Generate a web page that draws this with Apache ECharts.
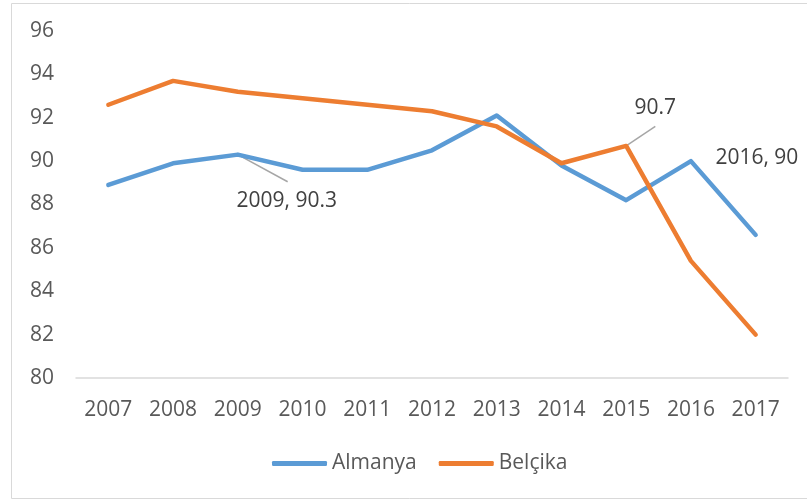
<!DOCTYPE html>
<html>
<head>
<meta charset="utf-8">
<script src="https://cdn.jsdelivr.net/npm/echarts@6/dist/echarts.min.js"></script>
<style>
  html, body { margin: 0; padding: 0; background: #fff; }
  #chart { width: 807px; height: 501px; }
</style>
</head>
<body>
<div id="chart"></div>
<script>
const years = ["2007", "2008", "2009", "2010", "2011", "2012", "2013", "2014", "2015", "2016", "2017"];
const almanya = [88.9, 89.9, 90.3, 89.6, 89.6, 90.5, 92.1, 89.8, 88.2, 90, 86.6];
const belcika = [92.6, 93.7, 93.2, 92.9, 92.6, 92.3, 91.6, 89.9, 90.7, 85.4, 82.0];

// which points carry a data label, and how it is written
const almanyaLabels = { 2: "2009, 90.3", 9: "2016, 90" };
const belcikaLabels = { 8: "90.7" };

// leader lines: from a labelled point to where its label sits (index, value)
const almanyaLeader = [[2, 90.3], [2.77, 89.05]];
const belcikaLeader = [[8, 90.7], [8.45, 91.6]];

const font = "'Open Sans', 'Noto Sans', sans-serif";

function withLabels(values, labels) {
  return values.map(function (v, i) {
    if (labels[i] === undefined) return v;
    return { value: v, label: { show: true, formatter: labels[i] } };
  });
}

function leaderSeries(points) {
  return {
    type: "line",
    xAxisIndex: 1,
    data: points,
    symbol: "none",
    silent: true,
    z: 1,
    lineStyle: { color: "#a6a6a6", width: 1.5 }
  };
}

const chart = echarts.init(document.getElementById("chart"));

chart.setOption({
  animation: false,
  textStyle: { fontFamily: font },
  graphic: [
    {
      type: "rect",
      shape: { x: 11.5, y: 3.5, width: 820, height: 495 },
      style: { fill: "none", stroke: "#d9d9d9", lineWidth: 1 },
      silent: true
    }
  ],
  grid: { left: 76, right: 19, top: 31, bottom: 123 },
  legend: {
    left: 267,
    top: 448,
    icon: "roundRect",
    itemWidth: 55,
    itemHeight: 5,
    itemGap: 22,
    textStyle: { color: "#595959", fontSize: 21, fontFamily: font },
    data: ["Almanya", "Belçika"]
  },
  xAxis: [
    {
      type: "category",
      data: years,
      boundaryGap: true,
      axisLine: { lineStyle: { color: "#d9d9d9", width: 1.5 } },
      axisTick: { show: false },
      axisLabel: { color: "#595959", fontSize: 21, margin: 22, fontFamily: font }
    },
    {
      // hidden twin of the category axis, so leader lines can end between categories
      type: "value",
      min: -0.5,
      max: years.length - 0.5,
      show: false
    }
  ],
  yAxis: {
    type: "value",
    min: 80,
    max: 96,
    interval: 2,
    axisLine: { show: false },
    axisTick: { show: false },
    splitLine: { show: false },
    axisLabel: { color: "#595959", fontSize: 21, margin: 22, fontFamily: font }
  },
  series: [
    leaderSeries(almanyaLeader),
    leaderSeries(belcikaLeader),
    {
      name: "Almanya",
      type: "line",
      data: withLabels(almanya, almanyaLabels),
      symbol: "circle",
      symbolSize: 0,
      showSymbol: true,
      color: "#5b9bd5",
      z: 2,
      lineStyle: { width: 4.5, cap: "round", join: "round" },
      label: { show: false, color: "#404040", fontSize: 21, fontFamily: font },
      labelLayout: function (p) {
        if (p.dataIndex === 2) return { dx: 49, dy: 62 };
        if (p.dataIndex === 9) return { dx: 66, dy: 12 };
        return {};
      }
    },
    {
      name: "Belçika",
      type: "line",
      data: withLabels(belcika, belcikaLabels),
      symbol: "circle",
      symbolSize: 0,
      showSymbol: true,
      color: "#ed7d31",
      z: 2,
      lineStyle: { width: 4.5, cap: "round", join: "round" },
      label: { show: false, color: "#404040", fontSize: 21, fontFamily: font },
      labelLayout: function (p) {
        if (p.dataIndex === 8) return { dx: 29, dy: -22 };
        return {};
      }
    }
  ]
});
</script>
</body>
</html>
